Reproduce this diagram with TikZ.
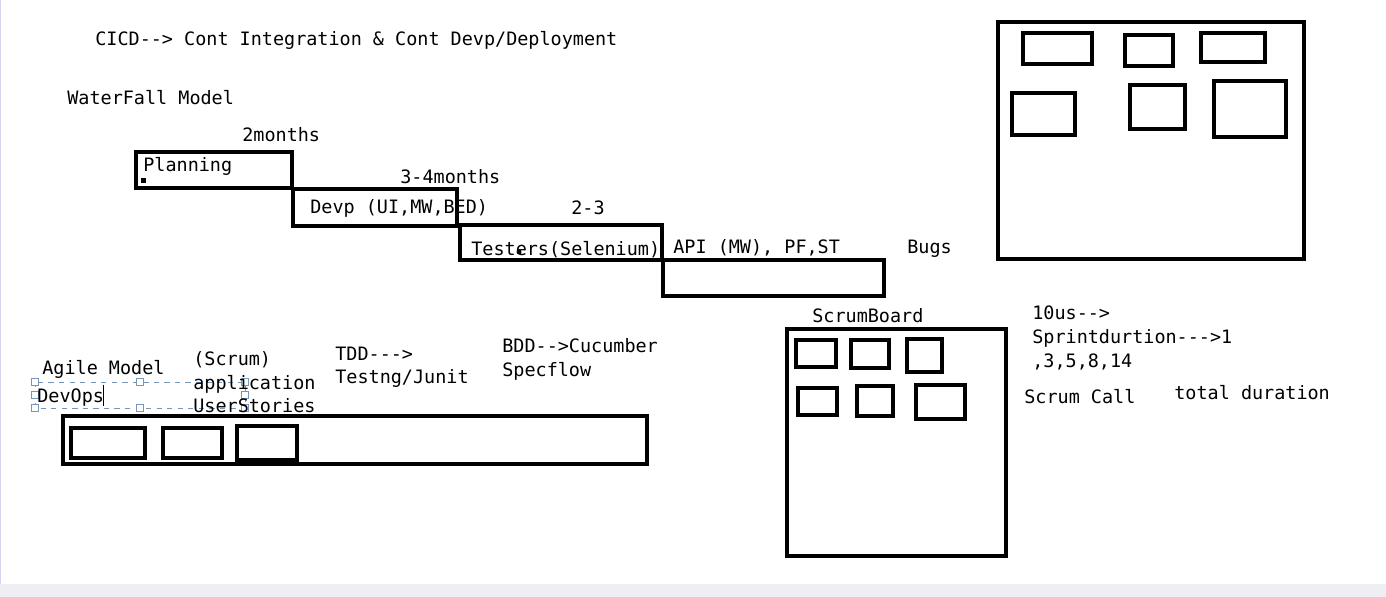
\documentclass[tikz,border=0pt]{standalone}
\usepackage{fontspec}
\setmonofont{DejaVu Sans Mono}
\definecolor{barra}{RGB}{239,238,242}
\definecolor{borde}{RGB}{215,212,235}
\definecolor{selec}{RGB}{120,150,185}
\begin{document}
\begin{tikzpicture}[
  x=0.02cm, y=-0.02cm,
  font=\ttfamily\fontsize{10.5}{12}\selectfont,
  txt/.style={anchor=base west, inner sep=0pt},
  caja/.style={draw, line width=2.2pt},
  marca/.style={draw=selec, fill=white, line width=0.4pt, minimum size=4pt,
                inner sep=0pt}
]
\useasboundingbox (0,0) rectangle (1386,597);
\fill[barra] (0,584) rectangle (1386,597);
\draw[borde, line width=0.4pt] (0.5,0) -- (0.5,584);

% --- Titulo ---
\node[txt] (cicd) at (95,46) {CICD--> Cont Integration \& Cont Devp/Deployment};

% --- Modelo cascada ---
\node[txt] (wf) at (67,105) {WaterFall Model};
\node[txt] (m2) at (242,142) {2months};
\draw[caja] (136,152) rectangle (292,188);
\node[txt] (plan) at (143,172) {Planning};
\fill (141,178) rectangle (146,183);
\node[txt] (m34) at (400,184) {3-4months};
\draw[caja] (293,189) rectangle (457,226);
\node[txt] (devp) at (310,214) {Devp (UI,MW,BED)};
\node[txt] (m23) at (571,215) {2-3};
\draw[caja] (460,225) rectangle (662,260);
\node[txt] (test) at (471,256) {Testers(Selenium)};
\fill (519,252) circle (2.5);
\draw[caja] (663,260) rectangle (884,296);
\node[txt] (api) at (673,254) {API (MW), PF,ST};
\node[txt] (bugs) at (907,254) {Bugs};

% --- Tablero grande ---
\draw[caja] (998,22) rectangle (1304,259);
\draw[caja] (1023,33) rectangle (1092,64);
\draw[caja] (1125,35) rectangle (1173,66);
\draw[caja] (1201,33) rectangle (1265,62);
\draw[caja] (1012,93) rectangle (1075,135);
\draw[caja] (1130,85) rectangle (1185,129);
\draw[caja] (1214,81) rectangle (1286,137);

% --- Scrum board ---
\node[txt] (sb) at (812,323) {ScrumBoard};
\draw[caja] (787,329) rectangle (1006,556);
\draw[caja] (796,340) rectangle (836,367);
\draw[caja] (851,340) rectangle (889,368);
\draw[caja] (907,339) rectangle (942,372);
\draw[caja] (798,388) rectangle (837,415);
\draw[caja] (857,386) rectangle (893,416);
\draw[caja] (916,385) rectangle (965,419);

\node[txt] (us) at (1032,320) {10us-->};
\node[txt] (sprint) at (1032,344) {Sprintdurtion--->1};
\node[txt] (fib) at (1032,368) {,3,5,8,14};
\node[txt] (call) at (1024,404) {Scrum Call};
\node[txt] (total) at (1174,400) {total duration};

% --- Modelo agil ---
\node[txt] (agile) at (42,375) {Agile Model};
\draw[selec, dashed, line width=0.5pt] (35,382) rectangle (245,408);
\foreach \px/\py in {35/382, 140/382, 245/382, 35/395, 245/395,
                     35/408, 140/408, 245/408}
  \node[marca] at (\px,\py) {};
\node[txt] (devops) at (37,403) {DevOps};
\draw[line width=0.5pt] (103,385) -- (103,406);
\node[txt] (scrum) at (193,366) {(Scrum)};
\node[txt] (appl) at (193,390) {application};
\node[txt] (stories) at (193,413) {UserStories};
\node[txt] (tdd) at (335,361) {TDD--->};
\node[txt] (testng) at (335,384) {Testng/Junit};
\node[txt] (bdd) at (502,353) {BDD-->Cucumber};
\node[txt] (spec) at (502,377) {Specflow};

\draw[caja] (63,416) rectangle (647,464);
\draw[caja] (71,428) rectangle (145,458);
\draw[caja] (163,428) rectangle (222,458);
\draw[caja] (237,426) rectangle (297,460);
\end{tikzpicture}
\end{document}
